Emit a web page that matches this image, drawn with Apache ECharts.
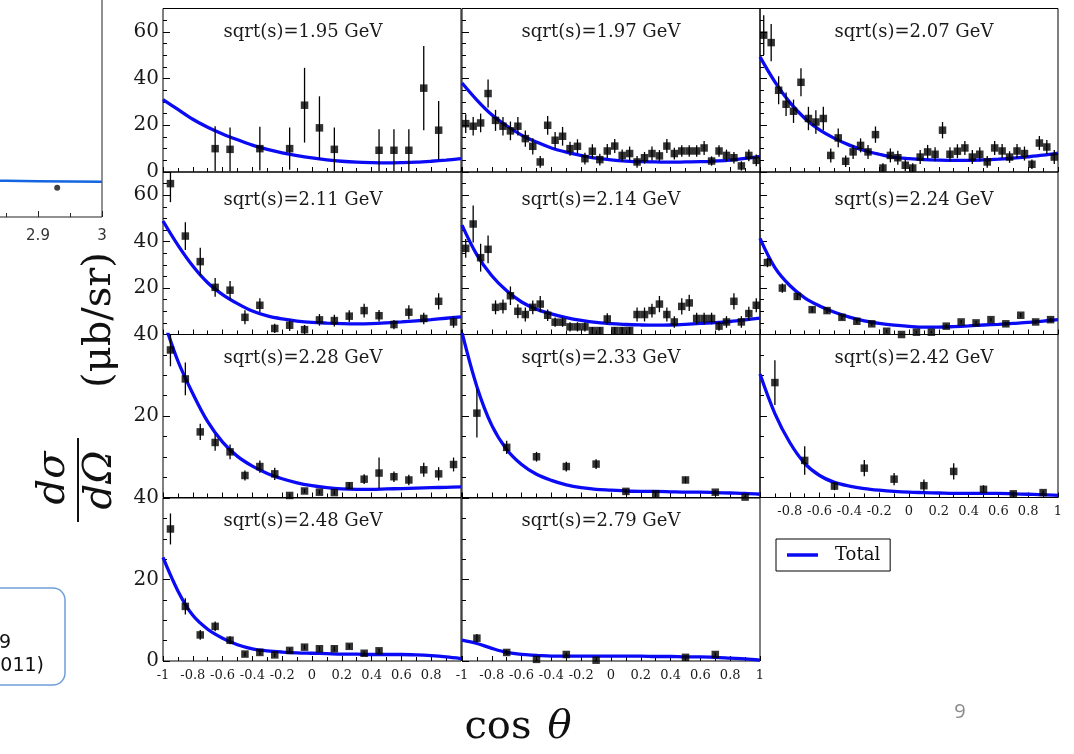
<!DOCTYPE html>
<html>
<head>
<meta charset="utf-8">
<script src="https://cdn.jsdelivr.net/npm/echarts@6/dist/echarts.min.js"></script>
<style>
html, body { margin: 0; padding: 0; background: #fff; }
#chart { width: 1074px; height: 754px; }
</style>
</head>
<body>
<div id="chart"></div>
<script>
// Panel energies (sqrt(s) in GeV)
const energyLabels = ['1.95', '1.97', '2.07', '2.11', '2.14', '2.24', '2.28', '2.33', '2.42', '2.48', '2.79'];

// Model curve sampling in cos(theta)
const curveCos = [-1, -0.9, -0.8, -0.7, -0.6, -0.5, -0.4, -0.3, -0.2, -0.1, 0, 0.1, 0.2, 0.3, 0.4, 0.5, 0.6, 0.7, 0.8, 0.9, 1];

// Bin centres used by the data sets
const cos40 = [-0.975, -0.925, -0.875, -0.825, -0.775, -0.725, -0.675, -0.625, -0.575, -0.525,
  -0.475, -0.425, -0.375, -0.325, -0.275, -0.225, -0.175, -0.125, -0.075, -0.025,
  0.025, 0.075, 0.125, 0.175, 0.225, 0.275, 0.325, 0.375, 0.425, 0.475,
  0.525, 0.575, 0.625, 0.675, 0.725, 0.775, 0.825, 0.875, 0.925, 0.975];
const cos20 = [-0.95, -0.85, -0.75, -0.65, -0.55, -0.45, -0.35, -0.25, -0.15, -0.05,
  0.05, 0.15, 0.25, 0.35, 0.45, 0.55, 0.65, 0.75, 0.85, 0.95];
const cos10 = [-0.9, -0.7, -0.5, -0.3, -0.1, 0.1, 0.3, 0.5, 0.7, 0.9];
const cos195 = [-0.65, -0.55, -0.35, -0.15, -0.05, 0.05, 0.15, 0.45, 0.55, 0.65, 0.75, 0.85];
const cos248 = [-0.95, -0.85, -0.75, -0.65, -0.55, -0.45, -0.35, -0.25, -0.15, -0.05, 0.05, 0.15, 0.25, 0.35, 0.45];
const cos279 = [-0.9, -0.7, -0.5, -0.3, -0.1, 0.5, 0.7];

// Measured dsigma/dOmega (mub/sr) and errors
const d195 = [10, 9.7, 10, 10, 28.6, 18.9, 9.7, 9.3, 9.3, 9.3, 35.9, 17.9];
const e195 = [9.6, 9.4, 9.4, 9, 16, 13.5, 9.4, 9, 9, 9, 18, 12.5];
const d197 = [20.7, 19.6, 21, 33.6, 22.1, 19.6, 17.6, 19.6, 14.3, 11, 4.3, 20, 13.6, 15.3, 10, 11, 5.7, 8.9, 5.3, 9,
  11.1, 7.1, 7.9, 4.3, 6.1, 7.9, 6.9, 11.1, 7.9, 9, 9, 9, 10.3, 4.7, 9, 7.1, 6.1, 2.6, 7.1, 5];
const e197 = [4, 4, 4, 6, 4.5, 4, 4, 4, 3.5, 3.5, 2.5, 4, 3.5, 4, 3, 3, 2.5, 3, 2.5, 3,
  3, 2.5, 3, 2.5, 2.5, 3, 2.5, 3, 2.5, 2.5, 2.5, 2.5, 3, 2, 2.5, 2.5, 2.5, 2, 2.5, 2.5];
const d207 = [58.6, 55.4, 35, 29, 26, 38.4, 22.9, 21.4, 22.9, 7.1, 14.6, 4.6, 8.6, 11.4, 8.6, 16, 1.7, 7.1, 6.1, 2.9,
  1.7, 6.4, 8.6, 7.6, 17.9, 7.6, 8.9, 10.3, 6.4, 7.6, 4.3, 10.3, 9, 6.4, 9, 7.9, 3.3, 12.4, 10.7, 6.4];
const e207 = [8.5, 8, 6, 5, 5, 6, 5, 5, 5, 3, 4, 2.5, 3, 3, 3, 3.5, 2, 3, 3, 2.5,
  2, 3, 3, 3, 3.5, 3, 3, 3, 3, 3, 2.5, 3, 3, 2.5, 3, 3, 2, 3, 3, 3];
const d211 = [65, 42.4, 31.4, 20.3, 19.1, 7.4, 12.6, 2.6, 4, 2.1, 6.3, 6, 7.9, 10.3, 8.1, 4.3, 9.6, 6.9, 14.3, 5.4];
const e211 = [8, 6, 6, 4, 4, 3, 3, 2, 2.5, 2, 2.5, 2.5, 2.5, 3, 2.5, 2, 3, 2.5, 3.5, 2.5];
const d214 = [37.1, 47.6, 33.1, 36.7, 11.7, 12.1, 16.7, 10, 8.6, 11.7, 13.1, 8.3, 5.3, 5.3, 3.3, 3.3, 3.3, 1.7, 1.7, 6.7,
  1.7, 1.7, 1.7, 8.6, 8.6, 10.3, 13.1, 8.6, 5.4, 12.1, 13.6, 6.9, 6.9, 6.9, 3.6, 5.4, 14.3, 5.4, 9, 12.6];
const e214 = [4, 8, 6, 6, 3, 3, 4, 3, 3, 3, 3.5, 2.5, 2, 2, 2, 2, 2, 1.5, 1.5, 2.5,
  1.5, 1.5, 1.5, 3, 3, 3, 3.5, 3, 2.5, 3.5, 3.5, 2.5, 2.5, 2.5, 2, 2.5, 3.5, 2.5, 3, 3];
const d224 = [31, 20, 16.4, 10.7, 10.3, 7.4, 5.7, 4.6, 1.4, 0, 1, 1, 3.6, 5.4, 5, 6.4, 4.6, 8.3, 5.4, 6.4];
const e224 = [2, 2, 1.5, 1.2, 1.2, 1, 1, 0.8, 0.6, 0.5, 0.5, 0.5, 0.8, 0.8, 0.8, 0.8, 0.8, 1, 0.8, 0.8];
const d228 = [36.2, 29.1, 16.1, 13.5, 11.2, 5.4, 7.6, 5.8, 0.5, 1.6, 1.3, 1.2, 2.9, 4.5, 6, 5.1, 4.3, 6.8, 5.8, 8.1];
const e228 = [4, 4, 2, 2, 1.8, 1.2, 1.5, 1.5, 0.5, 0.5, 0.5, 0.5, 0.8, 1.2, 3.8, 1.3, 1.3, 1.7, 1.6, 1.7];
const d233 = [20.7, 12.3, 10, 7.6, 8.2, 1.5, 0.9, 4.3, 1.3, 0.1];
const e233 = [6, 1.6, 1.2, 1.2, 1.2, 0.5, 0.5, 0.8, 0.5, 0.3];
const d242 = [28.2, 9.1, 2.8, 7.2, 4.5, 2.9, 6.4, 2, 0.9, 1.2];
const e242 = [5.5, 3.5, 1, 2, 1.5, 1.5, 2, 1, 0.5, 0.5];
const d248 = [32.4, 13.4, 6.4, 8.5, 5.1, 1.7, 2.1, 1.5, 2.6, 3.4, 3, 3, 3.6, 1.9, 2.5];
const e248 = [3.8, 2, 1.2, 1.2, 1, 0.6, 0.6, 0.5, 0.6, 0.6, 0.6, 0.6, 0.6, 0.5, 0.5];
const d279 = [5.6, 2.1, 0.4, 1.6, 0.2, 0.9, 1.6];
const e279 = [1, 0.6, 0.3, 0.5, 0.3, 0.4, 0.5];

// "Total" model curves at curveCos
const t195 = [31, 26.8, 22.6, 19.2, 16.3, 13.8, 11.5, 9.7, 8.2, 7, 6, 5.2, 4.6, 4.2, 4, 3.9, 4, 4.2, 4.6, 5.1, 5.7];
const t197 = [38.1, 30.8, 24.5, 19.8, 15.8, 12.8, 10.3, 8.5, 7.1, 5.9, 5.2, 4.7, 4.4, 4.3, 4.2, 4.3, 4.4, 4.7, 5.1, 5.8, 6.7];
const t207 = [49.3, 38.6, 29.8, 23, 18, 14.4, 11.5, 9.2, 7.6, 6.3, 5.7, 5.3, 5.1, 5, 5, 5.2, 5.5, 5.9, 6.5, 7.2, 8.1];
const t211 = [48.9, 38.5, 29.5, 22.3, 17.2, 13.3, 10.1, 8, 6.7, 5.8, 5.2, 4.9, 4.7, 4.6, 4.7, 5, 5.4, 5.9, 6.4, 7, 7.6];
const t214 = [47.1, 34.3, 25.3, 18.8, 14, 10.9, 8.9, 7.3, 6.1, 5.2, 4.7, 4.3, 4.1, 4, 4.1, 4.4, 4.8, 5.1, 5.6, 6.3, 7.1];
const t224 = [41.4, 28.8, 21.1, 15.8, 12.3, 9.6, 7.5, 5.9, 4.8, 4, 3.5, 3.2, 3.2, 3.4, 3.7, 4.1, 4.4, 4.8, 5.2, 5.8, 6.4];
const t228 = [44, 33.5, 25.5, 18.6, 13.6, 10.1, 7.7, 5.9, 4.6, 3.6, 2.9, 2.4, 2.1, 2, 2, 2.1, 2.2, 2.3, 2.4, 2.5, 2.6];
const t233 = [40.5, 27.2, 17.7, 11.8, 8.1, 5.7, 4.2, 3.1, 2.4, 2, 1.8, 1.6, 1.5, 1.5, 1.4, 1.3, 1.3, 1.2, 1.1, 1, 0.8];
const t242 = [30.3, 20.6, 13.5, 8.4, 5.4, 3.7, 2.8, 2.2, 1.8, 1.5, 1.3, 1.2, 1.1, 1, 1, 1, 1, 0.9, 0.8, 0.7, 0.5];
const t248 = [25.4, 17.2, 11.2, 7.8, 5.6, 4, 3, 2.5, 2.2, 2, 1.9, 1.8, 1.7, 1.7, 1.6, 1.6, 1.6, 1.5, 1.3, 1, 0.6];
const t279 = [5.1, 4.3, 3.1, 2.1, 1.6, 1.4, 1.2, 1.2, 1.2, 1.2, 1.2, 1.2, 1.2, 1.1, 1.1, 1, 1, 0.9, 0.7, 0.5, 0.2];

// Edge of the neighbouring total cross-section plot
const sideX = [2.5, 2.6, 2.7, 2.8, 2.9, 3.0];
const sideY = [1.3, 1.25, 1.2, 1.16, 1.13, 1.11];
const sidePtX = [2.93];
const sidePtY = [0.92];

const sets = [
  [cos195, d195, e195, t195], [cos40, d197, e197, t197], [cos40, d207, e207, t207],
  [cos20, d211, e211, t211], [cos40, d214, e214, t214], [cos20, d224, e224, t224],
  [cos20, d228, e228, t228], [cos10, d233, e233, t233], [cos10, d242, e242, t242],
  [cos248, d248, e248, t248], [cos279, d279, e279, t279]
];

// Layout of the 4x3 panel matrix
const colLeft = [163, 462, 760];
const colW = 298;
const rowTop = [8.5, 172, 334.5, 498];
const rowH = [163.5, 162.5, 163, 163];
const rowMax = [70, 70, 40, 40];
const titleDy = [24, 28, 24, 23];
const titleCx = [303, 601, 914];

const SERIF = '"DejaVu Serif", "Liberation Serif", serif';
const BLUE = '#0a0af5';

const grids = [], xAxes = [], yAxes = [], series = [], graphics = [];

sets.forEach((s, i) => {
  const row = Math.floor(i / 3), col = i % 3;
  grids.push({
    left: colLeft[col], top: rowTop[row], width: colW, height: rowH[row],
    show: true, borderColor: '#000', borderWidth: 1, backgroundColor: 'transparent',
    containLabel: false, outerBoundsMode: 'none'
  });
  const showX = (row === 3) || (row === 2 && col === 2);
  xAxes.push({
    gridIndex: i, type: 'value', min: -1, max: 1, interval: 0.2, position: 'bottom',
    axisLine: { show: false, onZero: false },
    axisTick: { show: true, inside: true, length: 5, lineStyle: { color: '#000', width: 1 } },
    minorTick: { show: true, splitNumber: 2, length: 4, lineStyle: { color: '#000', width: 1 } },
    splitLine: { show: false }, minorSplitLine: { show: false },
    axisLabel: {
      show: showX, margin: 8, color: '#1a1a1a', fontFamily: SERIF, fontSize: 13,
      showMinLabel: !(row === 2 && col === 2), showMaxLabel: !(row === 3 && col === 0)
    }
  });
  yAxes.push({
    gridIndex: i, type: 'value', min: 0, max: rowMax[row], interval: 20, position: 'left',
    axisLine: { show: false, onZero: false },
    axisTick: { show: true, inside: true, length: 7, lineStyle: { color: '#000', width: 1 } },
    minorTick: { show: true, splitNumber: 4, length: 4, lineStyle: { color: '#000', width: 1 } },
    splitLine: { show: false }, minorSplitLine: { show: false },
    axisLabel: {
      show: col === 0, margin: 4, color: '#1a1a1a', fontFamily: SERIF, fontSize: 20,
      showMinLabel: row === 0 || row === 3, showMaxLabel: row >= 2
    }
  });
  const [xs, ys, es, tc] = s;
  series.push({
    name: 'Total', type: 'line', xAxisIndex: i, yAxisIndex: i,
    data: curveCos.map((x, k) => [x, tc[k]]),
    smooth: 0.35, symbol: 'none', clip: true, z: 2,
    lineStyle: { color: BLUE, width: 3.3 }, itemStyle: { color: BLUE }
  });
  series.push({
    type: 'custom', xAxisIndex: i, yAxisIndex: i, z: 3,
    data: xs.map((x, k) => [x, ys[k], es[k]]),
    encode: { x: 0, y: 1 },
    renderItem: (params, api) => {
      const x = api.value(0), y = api.value(1), e = api.value(2);
      const p1 = api.coord([x, y - e]);
      const p2 = api.coord([x, y + e]);
      const cs = params.coordSys;
      const clampY = v => Math.max(cs.y, Math.min(cs.y + cs.height, v));
      return {
        type: 'line',
        shape: { x1: p1[0], y1: clampY(p1[1]), x2: p2[0], y2: clampY(p2[1]) },
        style: { stroke: '#000', lineWidth: 1.3 }
      };
    }
  });
  series.push({
    type: 'scatter', xAxisIndex: i, yAxisIndex: i, z: 4,
    data: xs.map((x, k) => [x, ys[k]]),
    symbol: 'rect', symbolSize: 7.5, itemStyle: { color: '#000' }
  });
  graphics.push({
    type: 'text', x: titleCx[col], y: rowTop[row] + titleDy[row], z: 10,
    style: {
      text: 'sqrt(s)=' + energyLabels[i] + ' GeV', font: '18px ' + SERIF, fill: '#1a1a1a',
      align: 'center', verticalAlign: 'middle', textAlign: 'center', textVerticalAlign: 'middle'
    }
  });
});

// Neighbouring plot, cut at the left edge
const sideIdx = sets.length;
grids.push({
  left: -218, top: -100, width: 320, height: 317,
  show: true, borderColor: '#222', borderWidth: 1, backgroundColor: 'transparent',
  containLabel: false, outerBoundsMode: 'none'
});
xAxes.push({
  gridIndex: sideIdx, type: 'value', min: 2.5, max: 3, interval: 0.1, position: 'bottom',
  axisLine: { show: false, onZero: false },
  axisTick: { show: true, inside: true, length: 6, lineStyle: { color: '#222' } },
  minorTick: { show: true, splitNumber: 2, length: 4, lineStyle: { color: '#222' } },
  splitLine: { show: false },
  axisLabel: { show: true, margin: 12, color: '#333', fontFamily: '"DejaVu Sans", sans-serif', fontSize: 15 }
});
yAxes.push({
  gridIndex: sideIdx, type: 'value', min: 0, max: 10, position: 'left',
  axisLine: { show: false, onZero: false }, axisTick: { show: false }, splitLine: { show: false }, axisLabel: { show: false }
});
series.push({
  type: 'line', xAxisIndex: sideIdx, yAxisIndex: sideIdx, smooth: true, symbol: 'none',
  data: sideX.map((x, k) => [x, sideY[k]]), lineStyle: { color: '#1565e0', width: 2.5 }
});
series.push({
  type: 'scatter', xAxisIndex: sideIdx, yAxisIndex: sideIdx, symbol: 'circle', symbolSize: 6,
  data: sidePtX.map((x, k) => [x, sidePtY[k]]), itemStyle: { color: '#111' }
});

// Axis titles and slide furniture
const txt = (x, y, text, font, extra) => Object.assign({
  type: 'text', x, y, z: 10,
  style: Object.assign({ text, font, fill: '#111', align: 'center', verticalAlign: 'middle',
    textAlign: 'center', textVerticalAlign: 'middle' }, extra || {})
});
graphics.push(Object.assign(txt(100, 320, '(μb/sr)', '40px ' + SERIF), { rotation: Math.PI / 2 }));
graphics.push(Object.assign(txt(54, 478, 'dσ', 'italic 40px ' + SERIF), { rotation: Math.PI / 2 }));
graphics.push(Object.assign(txt(101, 480, 'dΩ', 'italic 40px ' + SERIF), { rotation: Math.PI / 2 }));
graphics.push({ type: 'line', z: 10, shape: { x1: 78, y1: 438, x2: 78, y2: 522 }, style: { stroke: '#111', lineWidth: 2 } });
graphics.push({
  type: 'text', x: 518, y: 728, z: 10,
  style: {
    text: '{a|cos}{b|θ}', align: 'center', verticalAlign: 'middle', textAlign: 'center', textVerticalAlign: 'middle',
    rich: { a: { font: '40px ' + SERIF, fill: '#111' }, b: { font: 'italic 40px ' + SERIF, fill: '#111', padding: [0, 0, 0, 16] } }
  }
});
graphics.push({ type: 'rect', z: 10, shape: { x: -30, y: 588, width: 95, height: 97, r: 12 },
  style: { fill: '#fff', stroke: '#6f9fd8', lineWidth: 1.5 } });
graphics.push(txt(5, 643, '9', '19px "DejaVu Sans", sans-serif', { fill: '#111' }));
graphics.push(txt(44, 666, '011)', '19px "DejaVu Sans", sans-serif', { fill: '#111', align: 'right', textAlign: 'right' }));
graphics.push(txt(960, 712, '9', '20px "Open Sans", sans-serif', { fill: '#8a8a8a' }));

const chart = echarts.init(document.getElementById('chart'), null, { renderer: 'canvas' });
chart.setOption({
  animation: false,
  backgroundColor: '#fff',
  grid: grids,
  xAxis: xAxes,
  yAxis: yAxes,
  legend: {
    data: [{ name: 'Total', icon: 'rect' }], left: 776, top: 539, orient: 'horizontal',
    borderColor: '#000', borderWidth: 1, borderRadius: 0, padding: [7, 10, 7, 11],
    itemWidth: 31, itemHeight: 3.5, selectedMode: false,
    itemStyle: { color: BLUE, borderWidth: 0 },
    textStyle: { fontFamily: SERIF, fontSize: 18, color: '#111', padding: [0, 0, 0, 12], lineHeight: 18 }
  },
  series: series,
  graphic: graphics
});
</script>
</body>
</html>
